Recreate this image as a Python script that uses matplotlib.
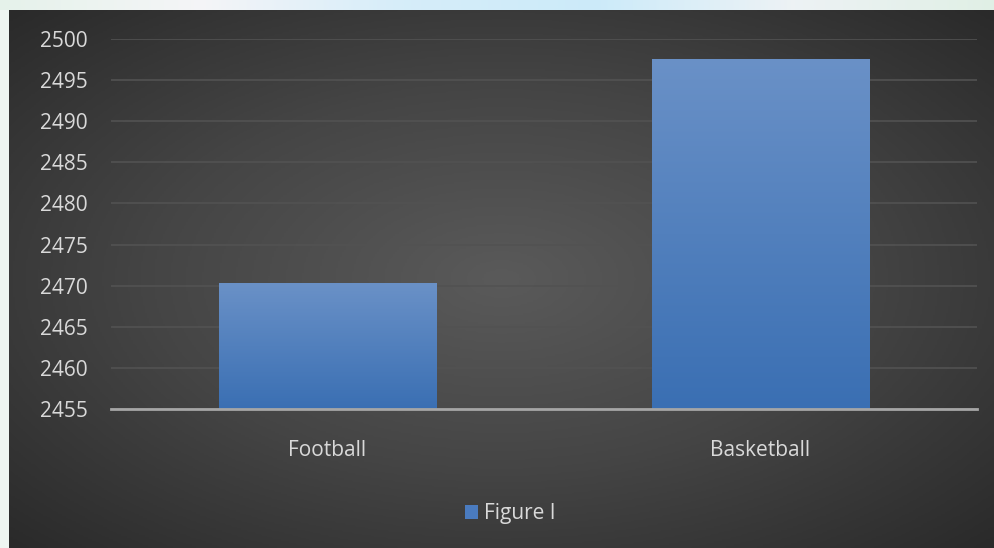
import matplotlib.pyplot as plt
import numpy as np
from matplotlib.colors import LinearSegmentedColormap

categories = ['Football', 'Basketball']
values = [2470.3, 2497.6]
series_name = 'Figure I'
y_ticks = [2455, 2460, 2465, 2470, 2475, 2480, 2485, 2490, 2495, 2500]

plt.rcParams['font.family'] = ['Open Sans', 'DejaVu Sans']

W, H = 994, 548
fig = plt.figure(figsize=(W / 100, H / 100), dpi=100)
fig.patch.set_facecolor('#eef5f1')

# light decorative strip at the top (page background behind the chart)
strip = fig.add_axes([0, 1 - 10 / H, 1, 10 / H])
sx = np.linspace(0, 1, 400)
strip_cols = np.array([[0.90, 0.95, 0.92], [0.96, 0.96, 0.97], [0.84, 0.93, 0.98],
                       [0.80, 0.92, 0.98], [0.93, 0.95, 0.96], [0.88, 0.94, 0.90]])
cm_strip = LinearSegmentedColormap.from_list('strip', strip_cols)
strip.imshow(sx[None, :], aspect='auto', cmap=cm_strip, extent=[0, 1, 0, 1])
strip.axis('off')

# dark radial gradient background of the chart
bg = fig.add_axes([9 / W, 0, 1 - 9 / W, 1 - 10 / H])
gx, gy = np.meshgrid(np.linspace(-1, 1, 500), np.linspace(-1, 1, 300))
r = np.sqrt(gx ** 2 + gy ** 2) / np.sqrt(2)
cm_bg = LinearSegmentedColormap.from_list('bg', ['#5a5a5a', '#454545', '#2a2a2a'])
bg.imshow(r, cmap=cm_bg, aspect='auto', extent=[0, 1, 0, 1], vmin=0, vmax=1)
bg.axis('off')

ax = fig.add_axes([111 / W, 1 - 409 / H, (977 - 111) / W, (409 - 39) / H])
ax.set_facecolor('none')
x = np.arange(len(categories))
bars = ax.bar(x, [v - y_ticks[0] for v in values], bottom=y_ticks[0], width=0.503,
              color='#4a7bbf', label=series_name, zorder=3)

# vertical gradient fill on each bar
cm_bar = LinearSegmentedColormap.from_list('bar', ['#3a6fb3', '#6a91c7'])
grad = np.linspace(0, 1, 256)[:, None]
for b in bars:
    bx, by = b.get_x(), b.get_y()
    bw, bh = b.get_width(), b.get_height()
    im = ax.imshow(grad, cmap=cm_bar, aspect='auto', origin='lower',
                   extent=[bx, bx + bw, by, by + bh], zorder=4)
    im.set_clip_path(b)

ax.set_xlim(-0.5, len(categories) - 0.5)
ax.set_ylim(y_ticks[0], y_ticks[-1])
ax.set_yticks(y_ticks)
ax.set_xticks(x)
ax.set_xticklabels(categories)
ax.grid(axis='y', color='#525252', linewidth=1.2, zorder=0)
ax.tick_params(axis='y', length=0, pad=17, labelsize=15, labelcolor='#d9d9d9')
ax.tick_params(axis='x', length=0, pad=22, labelsize=15, labelcolor='#d9d9d9')
for s in ['top', 'right', 'left']:
    ax.spines[s].set_visible(False)
ax.spines['bottom'].set_color('#a6a6a6')
ax.spines['bottom'].set_linewidth(2)
ax.spines['bottom'].set_zorder(5)

leg = fig.legend(handles=[bars], labels=[series_name], loc='center',
                 bbox_to_anchor=(510 / W, 1 - 514 / H), frameon=False,
                 fontsize=15, labelcolor='#d9d9d9', handlelength=0.65,
                 handleheight=0.65, handletextpad=0.25)

plt.savefig('out.png', dpi=100)
